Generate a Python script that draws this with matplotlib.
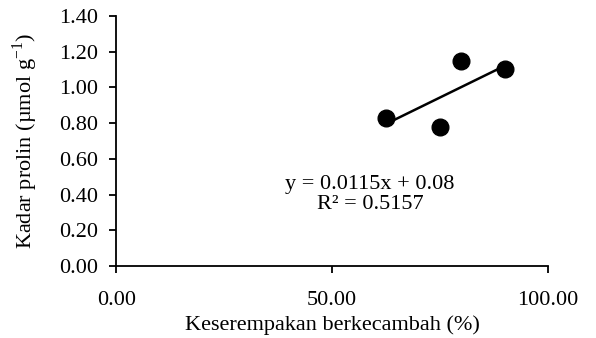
import numpy as np
import matplotlib.pyplot as plt

# data
keserempakan = [62.5, 75.0, 80.0, 90.0]
prolin = [0.83, 0.78, 1.15, 1.10]
x_ticks = [0, 50, 100]
y_ticks = [0.0, 0.2, 0.4, 0.6, 0.8, 1.0, 1.2, 1.4]

plt.rcParams['font.family'] = ['Liberation Serif', 'DejaVu Serif']
plt.rcParams['mathtext.fontset'] = 'custom'
plt.rcParams['mathtext.rm'] = 'Liberation Serif'

fig = plt.figure(figsize=(5.96, 3.38), dpi=100)
ax = fig.add_axes([0.195, 0.213, 0.724, 0.740])

ax.plot(keserempakan, prolin, 'o', color='black', markersize=12, zorder=3)

# linear trendline over the data range
slope, intercept = np.polyfit(keserempakan, prolin, 1)
xs = np.array([min(keserempakan), max(keserempakan)])
ax.plot(xs, slope * xs + intercept, color='black', linewidth=1.8)

ax.text(0.588, 0.285, 'y = 0.0115x + 0.08\nR² = 0.5157', transform=ax.transAxes,
        ha='center', va='center', fontsize=16, linespacing=1.1)

ax.set_xlim(0, 100)
ax.set_ylim(0, 1.4)
ax.set_xticks(x_ticks)
ax.set_xticklabels([f'{v:.2f}' for v in x_ticks])
ax.set_yticks(y_ticks)
ax.set_yticklabels([f'{v:.2f}' for v in y_ticks])

for s in ['top', 'right']:
    ax.spines[s].set_visible(False)
for s in ['left', 'bottom']:
    ax.spines[s].set_linewidth(1.3)

ax.tick_params(axis='both', direction='out', length=5, width=1.3, labelsize=16)
ax.tick_params(axis='x', pad=13)
ax.tick_params(axis='y', pad=8)

ax.set_xlabel('Keserempakan berkecambah (%)', fontsize=16, labelpad=4)
ax.set_ylabel('Kadar prolin (µmol g$^{\\mathregular{-1}}$)', fontsize=16, labelpad=14)

fig.savefig('out.png', dpi=100)
